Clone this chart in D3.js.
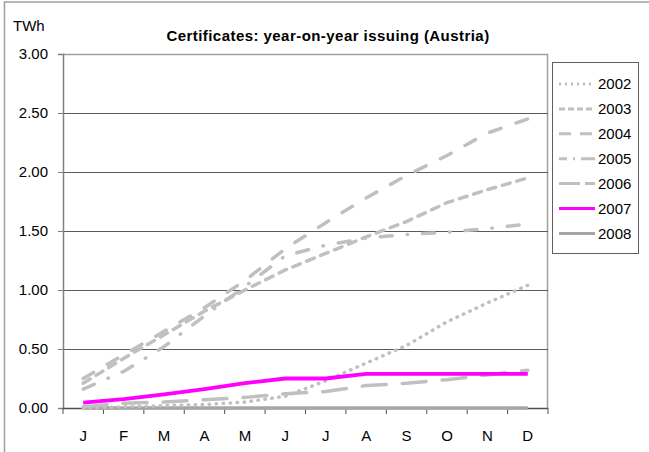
<!DOCTYPE html>
<html>
<head>
<meta charset="utf-8">
<script src="https://cdn.jsdelivr.net/npm/d3@7/dist/d3.min.js"></script>
<style>
  body { margin: 0; background: #fff; }
  text { font-family: "Liberation Sans", Arial, sans-serif; }
</style>
</head>
<body>
<div id="vis"></div>
<script>
// Data
var months = ['J', 'F', 'M', 'A', 'M', 'J', 'J', 'A', 'S', 'O', 'N', 'D'];
var years = ['2002', '2003', '2004', '2005', '2006', '2007', '2008'];
var yTicks = [0, 0.5, 1, 1.5, 2, 2.5, 3];

var v2002 = [0.00, 0.01, 0.02, 0.03, 0.05, 0.10, 0.23, 0.38, 0.53, 0.73, 0.89, 1.04];
var v2003 = [0.21, 0.42, 0.62, 0.82, 1.00, 1.17, 1.31, 1.45, 1.58, 1.74, 1.85, 1.95];
var v2004 = [0.25, 0.45, 0.65, 0.85, 1.08, 1.35, 1.57, 1.78, 1.97, 2.14, 2.33, 2.45];
var v2005 = [0.16, 0.31, 0.52, 0.78, 1.03, 1.29, 1.38, 1.44, 1.47, 1.49, 1.52, 1.56];
var v2006 = [0.01, 0.04, 0.05, 0.07, 0.09, 0.12, 0.14, 0.19, 0.21, 0.24, 0.28, 0.32];
var v2007 = [0.045, 0.075, 0.115, 0.16, 0.21, 0.25, 0.25, 0.29, 0.29, 0.29, 0.29, 0.29];
var v2008 = [0, 0, 0, 0, 0, 0, 0, 0, 0, 0, 0, 0];

var seriesValues = [v2002, v2003, v2004, v2005, v2006, v2007, v2008];

// line styles per year (chart dash, legend dash)
var styles = {
    '2002': { color: '#c0c0c0', dash: '0.5 6.5', legDash: '2 4' },
    '2003': { color: '#c0c0c0', dash: '8 7', legDash: '6 3' },
    '2004': { color: '#c0c0c0', dash: '12 16', legDash: '12 9' },
    '2005': { color: '#c0c0c0', dash: '12 15 0.5 15', legDash: '8 6 2 6 15 100' },
    '2006': { color: '#c0c0c0', dash: '24 16', legDash: '21 5' },
    '2007': { color: '#ff00ff', dash: null, legDash: null },
    '2008': { color: '#a6a6a6', dash: null, legDash: null }
};

var width = 649;
var height = 452;
var margin = { left: 63, top: 54, right: 101, bottom: 44 };
var drawWidth = width - margin.left - margin.right;
var drawHeight = height - margin.top - margin.bottom;

var svg = d3.select('#vis')
    .append('svg')
    .attr('width', width)
    .attr('height', height);

// outer frame (runs off the right and bottom)
svg.append('rect')
    .attr('x', 4.5)
    .attr('y', 2)
    .attr('width', 660)
    .attr('height', 470)
    .attr('fill', 'none')
    .attr('stroke', '#a0a0a0')
    .attr('stroke-width', 1.5);

var g = svg.append('g')
    .attr('transform', 'translate(' + margin.left + ',' + margin.top + ')');

var xScale = d3.scaleBand()
    .domain(d3.range(months.length))
    .range([0, drawWidth]);

var yScale = d3.scaleLinear()
    .domain([0, 3])
    .range([drawHeight, 0]);

// plot area border (top + right)
g.append('path')
    .attr('d', 'M0,0.5H' + (drawWidth - 0.5) + 'V' + drawHeight)
    .attr('fill', 'none')
    .attr('stroke', '#a0a0a0')
    .attr('stroke-width', 1.5);

// gridlines
g.selectAll('.grid')
    .data(yTicks.filter(function(d) { return d > 0 && d < 3; }))
    .enter().append('line')
    .attr('class', 'grid')
    .attr('x1', 0)
    .attr('x2', drawWidth)
    .attr('y1', function(d) { return Math.round(yScale(d)) + 0.5; })
    .attr('y2', function(d) { return Math.round(yScale(d)) + 0.5; })
    .attr('stroke', '#5a5a5a')
    .attr('stroke-width', 1);

// y axis
var yAxis = d3.axisLeft(yScale)
    .tickValues(yTicks)
    .tickFormat(d3.format('.2f'))
    .tickSize(5)
    .tickPadding(10);
var yAxisG = g.append('g').call(yAxis);
yAxisG.select('.domain').attr('stroke', '#808080').attr('stroke-width', 1.5);
yAxisG.selectAll('.tick line').attr('stroke', '#808080');
yAxisG.selectAll('text')
    .style('font-size', '15px')
    .attr('fill', '#000');

// x axis: labels at category centres, ticks at category edges
var xAxis = d3.axisBottom(xScale)
    .tickFormat(function(i) { return months[i]; })
    .tickSize(0)
    .tickPadding(22);
var xAxisG = g.append('g')
    .attr('transform', 'translate(0,' + drawHeight + ')')
    .call(xAxis);
xAxisG.select('.domain').remove();
xAxisG.selectAll('text')
    .style('font-size', '15px')
    .attr('fill', '#000');

g.append('line')
    .attr('x1', 0).attr('x2', drawWidth)
    .attr('y1', drawHeight + 0.5).attr('y2', drawHeight + 0.5)
    .attr('stroke', '#505050')
    .attr('stroke-width', 1.5);

g.selectAll('.xtick')
    .data(d3.range(months.length + 1))
    .enter().append('line')
    .attr('class', 'xtick')
    .attr('x1', function(i) { return i * xScale.bandwidth(); })
    .attr('x2', function(i) { return i * xScale.bandwidth(); })
    .attr('y1', drawHeight)
    .attr('y2', drawHeight + 6)
    .attr('stroke', '#505050');

// lines
var line = d3.line()
    .x(function(d, i) { return xScale(i) + xScale.bandwidth() / 2; })
    .y(function(d) { return yScale(d); });

var drawOrder = [6, 0, 1, 2, 3, 4, 5];
drawOrder.forEach(function(k) {
    var st = styles[years[k]];
    g.append('path')
        .datum(seriesValues[k])
        .attr('d', line)
        .attr('fill', 'none')
        .attr('stroke', st.color)
        .attr('stroke-width', years[k] === '2007' ? 3.8 : 3.5)
        .attr('stroke-linecap', st.dash ? 'round' : 'butt')
        .attr('stroke-linejoin', 'round')
        .attr('stroke-dasharray', st.dash);
});

// titles
svg.append('text')
    .attr('x', 328)
    .attr('y', 41)
    .attr('text-anchor', 'middle')
    .style('font-size', '15px')
    .style('font-weight', 'bold')
    .style('letter-spacing', '0.45px')
    .text('Certificates: year-on-year issuing (Austria)');

svg.append('text')
    .attr('x', 13)
    .attr('y', 31)
    .style('font-size', '15px')
    .text('TWh');

// legend
var legend = svg.append('g')
    .attr('transform', 'translate(552,62)');
legend.append('rect')
    .attr('x', 0.5).attr('y', 0.5)
    .attr('width', 86).attr('height', 191)
    .attr('fill', '#fff')
    .attr('stroke', '#606060');

var items = legend.selectAll('.item')
    .data(years)
    .enter().append('g')
    .attr('class', 'item')
    .attr('transform', function(d, i) { return 'translate(0,' + (22 + i * 24.9) + ')'; });

items.append('line')
    .attr('x1', 7).attr('x2', 43)
    .attr('stroke', function(d) { return styles[d].color; })
    .attr('stroke-width', 3)
    .attr('stroke-dasharray', function(d) { return styles[d].legDash; });

items.append('text')
    .attr('x', 46)
    .attr('dy', '0.35em')
    .style('font-size', '15px')
    .text(function(d) { return d; });
</script>
</body>
</html>
